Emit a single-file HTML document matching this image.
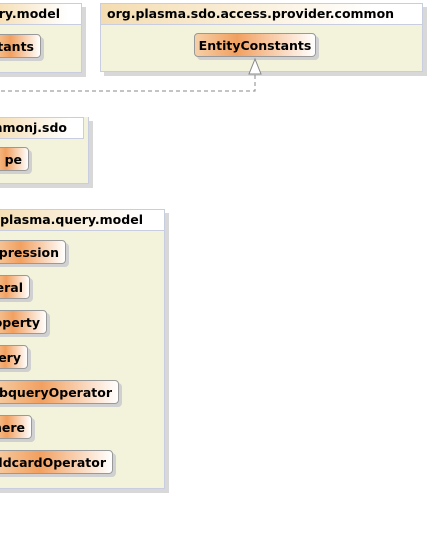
<!DOCTYPE html>
<html><head><style>
body{margin:0;width:430px;height:549px;background:#fff;position:relative;overflow:hidden;font-family:"DejaVu Sans","Liberation Sans",sans-serif;}
.pk{position:absolute;background:#f3f3dc;border:1px solid #c8cde0;box-shadow:4px 4px 0 #d8d8d8;}
.hd{position:absolute;left:0;right:0;top:0;height:20px;border-bottom:1px solid #c8cde0;background:linear-gradient(90deg,#f4dcb0,#fff 85%);font-weight:bold;font-size:12.5px;line-height:20px;padding-left:6px;white-space:nowrap;overflow:hidden;}
.fr{display:flex;justify-content:flex-end;}
.nd{position:absolute;height:24px;border:1px solid #999;border-radius:4px;background:linear-gradient(90deg,#f6d0a8,#f2a060 40%,#fff);box-shadow:3px 3px 0 #d0d0d0;font-weight:bold;font-size:12.5px;line-height:23px;padding-right:6px;box-sizing:border-box;white-space:nowrap;overflow:hidden;display:flex;justify-content:flex-end;}
</style></head><body>
<div class="pk" style="left:-10px;top:3px;width:90px;height:68px"><div class="hd fr" style="padding-right:21px">ry.model</div>
<div class="nd" style="left:-1px;top:30px;width:51px">tants</div></div>

<div class="pk" style="left:100px;top:3px;width:321px;height:67px"><div class="hd">org.plasma.sdo.access.provider.common</div>
<div class="nd" style="left:93px;top:29px;width:122px;justify-content:center;padding:0;background:linear-gradient(90deg,#f6d0a8,#f2a060 35%,#fff)">EntityConstants</div></div>

<svg style="position:absolute;left:0;top:0" width="430" height="549">
<path d="M255 75 V91 H0" fill="none" stroke="#888" stroke-dasharray="4,3"/>
<polygon points="255,59 249,74 261,74" fill="#fff" stroke="#888"/>
</svg>

<div class="pk" style="left:-10px;top:117px;width:97px;height:66px;border-top:none;"><div class="hd fr" style="right:4px;padding-right:16px;border-top:1px solid #c8cde0;border-right:1px solid #c8cde0">mmonj.sdo</div>
<div class="nd" style="left:-1px;top:30px;width:39px">pe</div></div>

<div class="pk" style="left:-10px;top:209px;width:173px;height:278px"><div class="hd fr" style="padding-right:21px">.plasma.query.model</div>
<div class="nd" style="left:-1px;top:30px;width:76px">pression</div>
<div class="nd" style="left:-1px;top:65px;width:40px">eral</div>
<div class="nd" style="left:-1px;top:100px;width:57px">operty</div>
<div class="nd" style="left:-1px;top:135px;width:38px">uery</div>
<div class="nd" style="left:-1px;top:170px;width:129px">bqueryOperator</div>
<div class="nd" style="left:-1px;top:205px;width:42px">here</div>
<div class="nd" style="left:-1px;top:240px;width:123px">ldcardOperator</div>
</div>
</body></html>
